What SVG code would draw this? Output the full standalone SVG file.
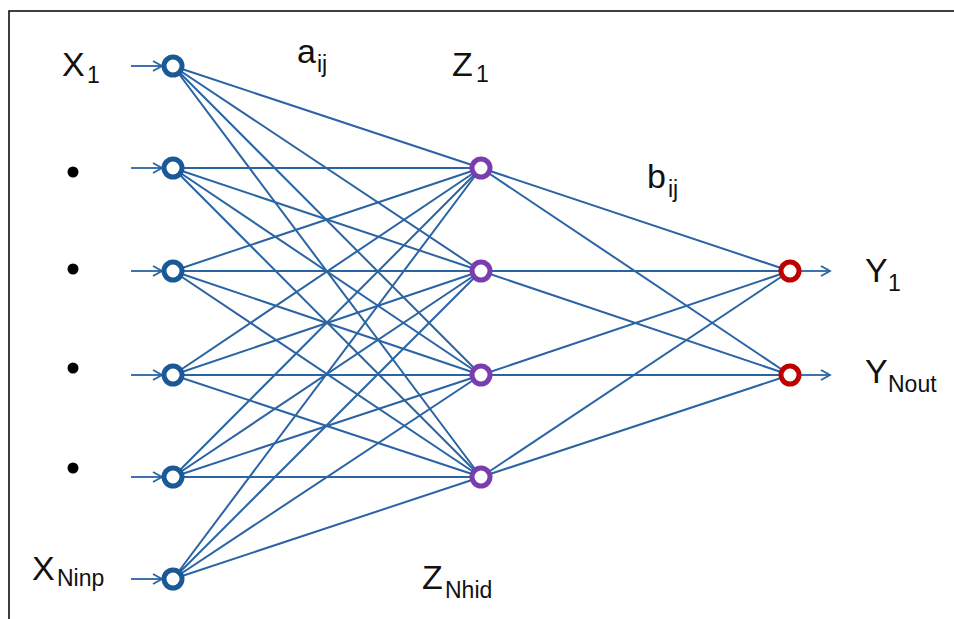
<svg xmlns="http://www.w3.org/2000/svg" width="954" height="619" viewBox="0 0 954 619">
<defs>
<style>
.edge{stroke:#2a64a3;stroke-width:2;fill:none}
.arr{stroke:#2a64a3;stroke-width:1.8;fill:none}
.in{fill:#fff;stroke:#1a5996;stroke-width:5}
.hid{fill:#fff;stroke:#7a3db0;stroke-width:5}
.out{fill:#fff;stroke:#c00000;stroke-width:5}
text{font-family:"Liberation Sans",Arial,sans-serif;fill:#111;font-size:34px}
.sub{font-size:23px}
</style>
<marker id="ah" markerWidth="12" markerHeight="12" refX="10" refY="6" orient="auto" markerUnits="userSpaceOnUse">
<path d="M1,1 L10,6 L1,11" fill="none" stroke="#2a64a3" stroke-width="1.8"/>
</marker>
</defs>
<rect width="954" height="619" fill="#fff"/>
<path d="M9,619 V11 H954" fill="none" stroke="#000" stroke-width="1.5"/>
<g id="connectors">
<g class="edge">
<path d="M173,66 L481,168 M173,66 L481,271 M173,66 L481,375 M173,66 L481,477"/>
<path d="M173,168 L481,168 M173,168 L481,271 M173,168 L481,375 M173,168 L481,477"/>
<path d="M173,271 L481,168 M173,271 L481,271 M173,271 L481,375 M173,271 L481,477"/>
<path d="M173,375 L481,168 M173,375 L481,271 M173,375 L481,375 M173,375 L481,477"/>
<path d="M173,477 L481,168 M173,477 L481,271 M173,477 L481,375 M173,477 L481,477"/>
<path d="M173,579 L481,168 M173,579 L481,271 M173,579 L481,375 M173,579 L481,477"/>
<path d="M481,168 L790,271 M481,168 L790,375 M481,271 L790,271 M481,271 L790,375"/>
<path d="M481,375 L790,271 M481,375 L790,375 M481,477 L790,271 M481,477 L790,375"/>
</g>
<g class="arr" marker-end="url(#ah)">
<path d="M131,66 H162"/>
<path d="M131,168 H162"/>
<path d="M131,271 H162"/>
<path d="M131,375 H162"/>
<path d="M131,477 H162"/>
<path d="M131,579 H162"/>
<path d="M799,271 H830"/>
<path d="M799,375 H830"/>
</g>
</g>
<g id="input-nodes">
<circle id="in1" class="in" cx="173" cy="66" r="9"/>
<circle id="in2" class="in" cx="173" cy="168" r="9"/>
<circle id="in3" class="in" cx="173" cy="271" r="9"/>
<circle id="in4" class="in" cx="173" cy="375" r="9"/>
<circle id="in5" class="in" cx="173" cy="477" r="9"/>
<circle id="in6" class="in" cx="173" cy="579" r="9"/>
</g>
<g id="hidden-nodes">
<circle id="h1" class="hid" cx="481" cy="168" r="9"/>
<circle id="h2" class="hid" cx="481" cy="271" r="9"/>
<circle id="h3" class="hid" cx="481" cy="375" r="9"/>
<circle id="h4" class="hid" cx="481" cy="477" r="9"/>
</g>
<g id="output-nodes">
<circle id="o1" class="out" cx="790" cy="271" r="9"/>
<circle id="o2" class="out" cx="790" cy="375" r="9"/>
</g>
<g id="dots" fill="#000">
<circle cx="73" cy="172" r="5.5"/>
<circle cx="73" cy="269" r="5.5"/>
<circle cx="73" cy="368" r="5.5"/>
<circle cx="73" cy="468" r="5.5"/>
</g>
<g id="labels">
<text x="62" y="76">X<tspan class="sub" x="87" y="83">1</tspan></text>
<text x="32" y="580">X<tspan class="sub" x="57" y="586">Ninp</tspan></text>
<text x="297" y="63">a<tspan class="sub" x="317" y="72">ij</tspan></text>
<text x="452" y="76">Z<tspan class="sub" x="476" y="82">1</tspan></text>
<text x="647" y="188">b<tspan class="sub" x="668" y="197">ij</tspan></text>
<text x="865" y="282">Y<tspan class="sub" x="888" y="291">1</tspan></text>
<text x="865" y="383">Y<tspan class="sub" x="888" y="392">Nout</tspan></text>
<text x="422" y="589">Z<tspan class="sub" x="445" y="598">Nhid</tspan></text>
</g>
</svg>
